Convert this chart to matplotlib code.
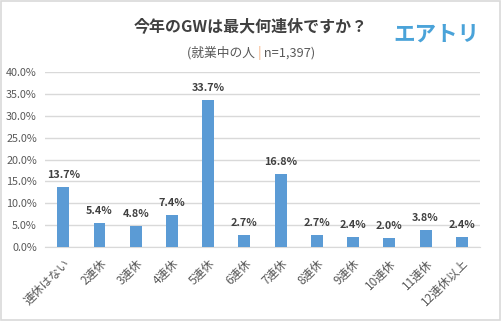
import matplotlib
matplotlib.use("Agg")
import matplotlib.pyplot as plt
from matplotlib.patches import Rectangle

plt.rcParams['font.family'] = ['Noto Sans CJK JP', 'DejaVu Sans']

categories = ["連休はない", "2連休", "3連休", "4連休", "5連休", "6連休",
              "7連休", "8連休", "9連休", "10連休", "11連休", "12連休以上"]
values = [13.7, 5.4, 4.8, 7.4, 33.7, 2.7, 16.8, 2.7, 2.4, 2.0, 3.8, 2.4]
yticks = [0, 5, 10, 15, 20, 25, 30, 35, 40]

fig = plt.figure(figsize=(5.02, 3.21), dpi=100)
fig.patches.append(Rectangle((0.002, 0.003), 0.995, 0.994, transform=fig.transFigure,
                             fill=False, edgecolor="#d9d9d9", linewidth=1.2))
ax = fig.add_axes([0.09, 0.2305, 0.866, 0.545])

x = list(range(len(categories)))
ax.bar(x, values, width=0.33, color="#5b9bd5", zorder=3)
for xi, v in zip(x, values):
    ax.text(xi, v + 1.6, f"{v:.1f}%", ha="center", va="bottom", fontsize=7.8,
            fontweight="bold", color="#404040")

ax.set_xlim(-0.5, len(categories) - 0.5)
ax.set_ylim(0, 40)
ax.set_yticks(yticks)
ax.set_yticklabels([f"{t:.1f}%" for t in yticks], fontsize=7.8, color="#595959")
ax.set_xticks(x)
ax.set_xticklabels(categories, rotation=45, ha="right", rotation_mode="anchor",
                   fontsize=8.5, color="#595959")
ax.tick_params(axis="x", length=0, pad=7)
ax.tick_params(axis="y", length=0, pad=6)
ax.grid(axis="y", color="#d9d9d9", linewidth=1, zorder=0)
for s in ["top", "right", "left"]:
    ax.spines[s].set_visible(False)
ax.spines["bottom"].set_color("#d9d9d9")

fig.text(0.5, 0.915, "今年のGWは最大何連休ですか？", ha="center", va="center",
         fontsize=11.5, fontweight="bold", color="#404040")

# subtitle in three pieces (orange separator)
renderer = fig.canvas.get_renderer()
parts = [("(就業中の人 ", "#595959"), ("|", "#f4b183"), (" n=1,397)", "#595959")]
sub_y = 0.835
tmp = [fig.text(0, sub_y, p, fontsize=9.2, va="center") for p, _ in parts]
widths = [t.get_window_extent(renderer).width for t in tmp]
for t in tmp:
    t.remove()
total = sum(widths)
start = 0.5 * fig.bbox.width - total / 2
for (p, c), w in zip(parts, widths):
    fig.text(start / fig.bbox.width, sub_y, p, fontsize=9.2, va="center", ha="left", color=c)
    start += w

fig.text(0.869, 0.895, "エアトリ", ha="center", va="center", fontsize=15.5,
         fontweight="bold", color="#4aa3d9")

fig.savefig("out.png", dpi=100)
